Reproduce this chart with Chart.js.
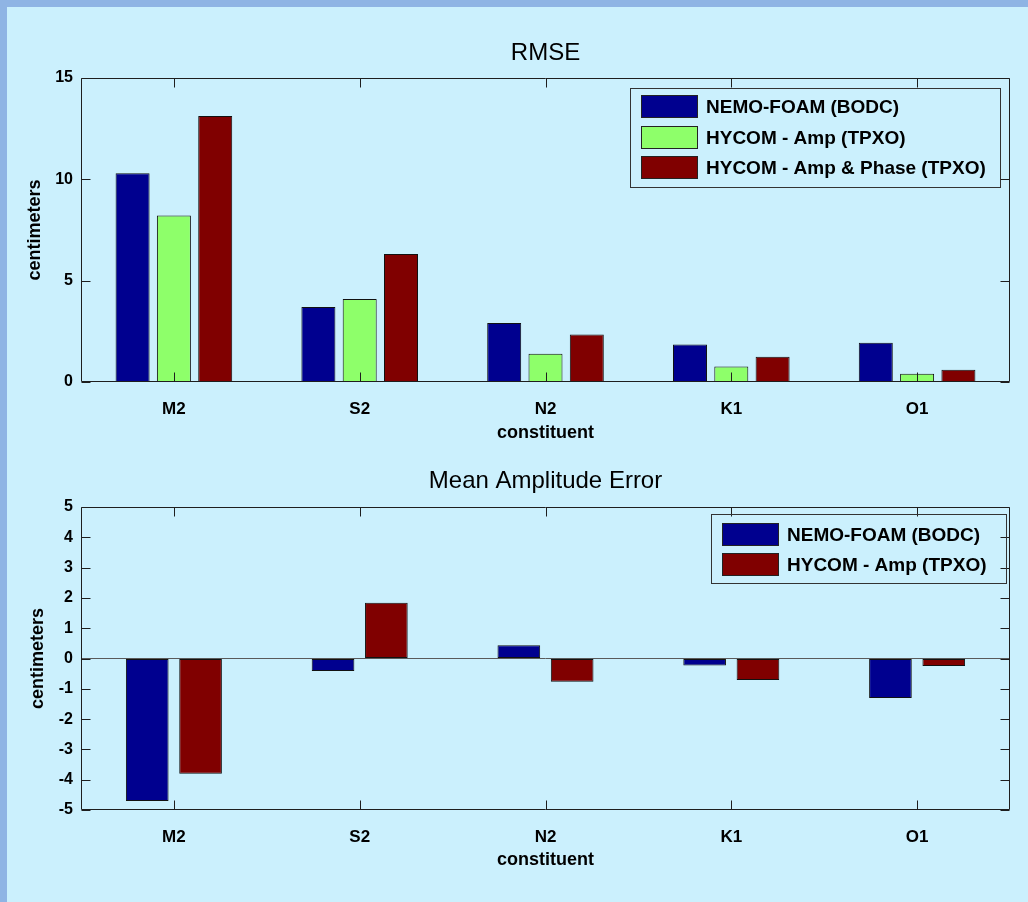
<!DOCTYPE html>
<html><head><meta charset="utf-8">
<script src="https://cdn.jsdelivr.net/npm/chart.js@4.4.1/dist/chart.umd.min.js"></script>
<style>
html,body{margin:0;padding:0;background:#cbf0fd;width:1028px;height:902px;overflow:hidden;}
#bl{position:absolute;left:0;top:0;width:7px;height:902px;background:#8fb4e4;}
#bt{position:absolute;left:0;top:0;width:1028px;height:7px;background:#8fb4e4;}
#c1{position:absolute;left:0;top:0;}
#c2{position:absolute;left:0;top:450px;}
</style></head><body>
<div id="bl"></div><div id="bt"></div>
<canvas id="c1" width="1028" height="450"></canvas>
<canvas id="c2" width="1028" height="452"></canvas>
<script>
// ---- data ----
const constituents = ['M2', 'S2', 'N2', 'K1', 'O1'];
const rmseNemo = [10.30, 3.70, 2.91, 1.85, 1.94];
const rmseHycomAmp = [8.22, 4.09, 1.40, 0.76, 0.41];
const rmseHycomAmpPhase = [13.12, 6.31, 2.34, 1.25, 0.61];
const meanErrNemo = [-4.70, -0.41, 0.44, -0.23, -1.30];
const meanErrHycomAmp = [-3.80, 1.84, -0.77, -0.71, -0.25];
const rmseTicks = [0, 5, 10, 15];
const meanErrTicks = [-5, -4, -3, -2, -1, 0, 1, 2, 3, 4, 5];
const seriesNames = ['NEMO-FOAM (BODC)', 'HYCOM - Amp (TPXO)', 'HYCOM - Amp & Phase (TPXO)'];

// ---- styles ----
const FONT = "'Liberation Sans', Arial, Helvetica, sans-serif";
const NAVY = '#00008f', GREEN = '#8eff6a', DARKRED = '#800000';
Chart.defaults.font.family = FONT;
Chart.defaults.color = '#000';

const framePlugin = {
  id: 'matlabFrame',
  afterDatasetsDraw(chart, args, opts) {
    const {ctx, chartArea: a, scales} = chart;
    ctx.save();
    ctx.strokeStyle = '#1e1e1e';
    ctx.lineWidth = 1;
    const L = Math.round(a.left) + 0.5, R = Math.round(a.right) - 0.5;
    const T = Math.round(a.top) + 0.5, B = Math.round(a.bottom) - 0.5;
    ctx.beginPath();
    ctx.rect(L, T, R - L, B - T);
    const len = 9;
    scales.x.ticks.forEach((t, i) => {
      const x = Math.round(scales.x.getPixelForTick(i)) + 0.5;
      ctx.moveTo(x, B); ctx.lineTo(x, B - len);
      ctx.moveTo(x, T); ctx.lineTo(x, T + len);
    });
    scales.y.ticks.forEach((t, i) => {
      const y = Math.round(scales.y.getPixelForTick(i)) + 0.5;
      ctx.moveTo(L, y); ctx.lineTo(L + len, y);
      ctx.moveTo(R, y); ctx.lineTo(R - len, y);
    });
    ctx.stroke();

    // boxed legend inside the axes
    const lg = opts.legend;
    const bx = Math.round(a.right - lg.right - lg.width), by = Math.round(a.top + lg.top);
    ctx.strokeStyle = '#333';
    ctx.strokeRect(bx + 0.5, by + 0.5, lg.width, lg.height);
    ctx.font = 'bold ' + lg.size + 'px ' + FONT;
    ctx.textAlign = 'left';
    ctx.textBaseline = 'middle';
    chart.data.datasets.forEach((ds, i) => {
      const sx = bx + lg.padLeft, sy = Math.round(by + lg.padTop + i * lg.pitch);
      ctx.fillStyle = ds.backgroundColor;
      ctx.fillRect(sx, sy, lg.swW, lg.swH);
      ctx.strokeStyle = '#222';
      ctx.strokeRect(sx + 0.5, sy + 0.5, lg.swW - 1, lg.swH - 1);
      ctx.fillStyle = '#000';
      ctx.fillText(ds.label, sx + lg.swW + lg.gap, sy + lg.swH / 2 + 1);
    });
    ctx.restore();
  }
};

function makeChart(canvasId, o) {
  return new Chart(document.getElementById(canvasId), {
    type: 'bar',
    data: {
      labels: constituents,
      datasets: o.series.map(s => ({
        label: s.label,
        data: s.data,
        backgroundColor: s.color,
        borderColor: '#111',
        borderWidth: 1,
        borderSkipped: false,
        categoryPercentage: o.catPct,
        barPercentage: o.barPct
      }))
    },
    options: {
      responsive: false,
      devicePixelRatio: 1,
      animation: false,
      layout: {padding: {left: 0, right: 18, top: 0, bottom: 0}},
      plugins: {
        legend: {display: false},
        tooltip: {enabled: false},
        title: {
          display: true, text: o.title, fullSize: false, color: '#000',
          font: {size: 24, weight: 'normal', family: FONT, lineHeight: 1.2},
          padding: o.titlePad
        },
        matlabFrame: {legend: o.legend}
      },
      scales: {
        x: {
          grid: {display: false, drawTicks: false},
          border: {display: false},
          ticks: {font: {size: 17, weight: 'bold'}, color: '#000', padding: o.xTickPad, maxRotation: 0},
          title: {display: true, text: 'constituent', color: '#000',
                  font: {size: 18, weight: 'bold', lineHeight: 1.2}, padding: {top: 0, bottom: o.xTitlePad}},
          afterFit: s => { s.height = o.xHeight; }
        },
        y: {
          min: o.ticks[0], max: o.ticks[o.ticks.length - 1],
          afterBuildTicks: s => { s.ticks = o.ticks.map(v => ({value: v})); },
          grid: {
            display: o.zeroLine, drawTicks: false,
            color: c => (c.tick && c.tick.value === 0 ? '#5a5a5a' : 'rgba(0,0,0,0)')
          },
          border: {display: false},
          ticks: {font: {size: 16, weight: 'bold'}, color: '#000', padding: 8},
          title: {display: true, text: 'centimeters', color: '#000',
                  font: {size: 18, weight: 'bold', lineHeight: 1.2}, padding: {top: o.yTitlePad, bottom: 0}},
          afterFit: s => { s.width = 81; }
        }
      }
    },
    plugins: [framePlugin]
  });
}

makeChart('c1', {
  title: 'RMSE',
  titlePad: {top: 39, bottom: 10.2},
  series: [
    {label: seriesNames[0], data: rmseNemo, color: NAVY},
    {label: seriesNames[1], data: rmseHycomAmp, color: GREEN},
    {label: seriesNames[2], data: rmseHycomAmpPhase, color: DARKRED}
  ],
  catPct: 0.667, barPct: 0.823,
  ticks: rmseTicks, zeroLine: false,
  xHeight: 68, xTickPad: 17, xTitlePad: 6, yTitlePad: 24,
  legend: {right: 10, top: 10, width: 370, height: 99, padLeft: 11, padTop: 7, pitch: 30.5, swW: 57, swH: 23, gap: 8, size: 19}
});

makeChart('c2', {
  title: 'Mean Amplitude Error',
  titlePad: {top: 17, bottom: 11.2},
  series: [
    {label: seriesNames[0], data: meanErrNemo, color: NAVY},
    {label: seriesNames[1], data: meanErrHycomAmp, color: DARKRED}
  ],
  catPct: 0.574, barPct: 0.8,
  ticks: meanErrTicks, zeroLine: true,
  xHeight: 92, xTickPad: 17, xTitlePad: 31, yTitlePad: 27,
  legend: {right: 4, top: 7, width: 295, height: 69, padLeft: 11, padTop: 9, pitch: 30, swW: 57, swH: 23, gap: 8, size: 19}
});
</script>
</body></html>
